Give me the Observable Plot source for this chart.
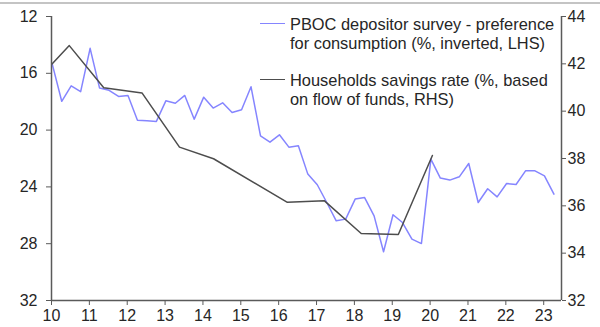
<!DOCTYPE html>
<html><head><meta charset="utf-8">
<script src="https://cdn.jsdelivr.net/npm/d3@7"></script>
<script src="https://cdn.jsdelivr.net/npm/@observablehq/plot@0.6"></script>
<style>
body{margin:0;background:#fff;font-family:"Liberation Sans",Arial,sans-serif;}
#wrap{position:relative;width:600px;height:327px;overflow:hidden;}
#topline{position:absolute;left:0;top:2px;width:600px;height:2px;background:#c4c4c4;}
.leg{position:absolute;font-size:16.4px;line-height:19px;color:#262626;white-space:nowrap;}
.sw{position:absolute;width:25px;height:0;}
</style></head><body>
<div id="wrap">
<div id="chart"></div>
<div id="topline"></div>
<div class="sw" style="left:260px;top:23px;border-top:1.5px solid #8585ff"></div>
<div class="leg" style="left:290px;top:15px">PBOC depositor survey - preference<br>for consumption (%, inverted, LHS)</div>
<div class="sw" style="left:260px;top:79px;border-top:1.5px solid #4d4d4d"></div>
<div class="leg" style="left:290px;top:71px">Households savings rate (%, based<br>on flow of funds, RHS)</div>
</div>
<script>
// PBOC depositor survey: preference for consumption (%), quarterly from 2010 Q1
const surveyStart = 10.02;
const surveyValues = [
  15.35, 17.97, 16.88, 17.29, 14.24, 17.04, 17.2, 17.63, 17.56, 19.3,
  19.35, 19.39, 17.94, 18.11, 17.56, 19.23, 17.68, 18.45, 18.08, 18.76,
  18.57, 16.95, 20.4, 20.85, 20.33, 21.2, 21.11, 23.1, 23.85, 25.1,
  26.39, 26.27, 24.86, 24.75, 26.04, 28.57, 25.96, 26.51, 27.68, 27.99,
  22.04, 23.38, 23.52, 23.29, 22.35, 25.1, 24.13, 24.7, 23.76, 23.83,
  22.87, 22.87, 23.22, 24.51
];
// Household savings rate (% , flow of funds)
const savingsYears = [10.02, 10.47, 11.38, 12.39, 13.38, 14.28, 16.23, 17.21, 18.18, 19.16, 20.06];
const savingsValues = [42.0, 42.77, 40.99, 40.77, 38.48, 37.99, 36.15, 36.21, 34.83, 34.79, 38.13];

const xTicks = [10, 11, 12, 13, 14, 15, 16, 17, 18, 19, 20, 21, 22, 23];
const leftTicks = [12, 16, 20, 24, 28, 32];
const rightTicks = [32, 34, 36, 38, 40, 42, 44];
const xMax = 23.47;

const survey = surveyValues.map((v, i) => ({x: surveyStart + i / 4, v}));
const savings = savingsYears.map((x, i) => ({x, v: savingsValues[i]}));

// map RHS (32..44) onto the inverted LHS scale (32..12)
const toLeft = r => 32 - (r - 32) * 20 / 12;
const toRight = l => 32 + (32 - l) * 12 / 20;

const axisColor = "#5a5a5a";
const chart = Plot.plot({
  width: 600,
  height: 327,
  marginLeft: 51,
  marginRight: 39,
  marginTop: 16,
  marginBottom: 27,
  style: {fontFamily: "'Liberation Sans', Arial, sans-serif", fontSize: "16px", color: "#262626", background: "white"},
  x: {domain: [10, xMax]},
  y: {domain: [12, 32], reverse: true},
  marks: [
    Plot.line(survey, {x: "x", y: "v", stroke: "#8585ff", strokeWidth: 1.5}),
    Plot.line(savings, {x: "x", y: d => toLeft(d.v), stroke: "#4d4d4d", strokeWidth: 1.5}),
    Plot.ruleX([10, xMax], {stroke: axisColor, strokeWidth: 1.5}),
    Plot.ruleY([32], {stroke: axisColor, strokeWidth: 1.5}),
    Plot.axisY({ticks: leftTicks, anchor: "left", tickSize: 5, tickPadding: 9, label: null, stroke: axisColor, tickFormat: d => String(d)}),
    Plot.axisY({ticks: rightTicks.map(toLeft), anchor: "right", tickSize: 4, tickPadding: 2, label: null, stroke: axisColor, tickFormat: d => String(Math.round(toRight(d)))}),
    Plot.axisX({ticks: xTicks, tickSize: 5, tickPadding: 4, label: null, stroke: axisColor, tickFormat: d => String(d)})
  ]
});
document.getElementById("chart").appendChild(chart);
</script>
</body></html>
